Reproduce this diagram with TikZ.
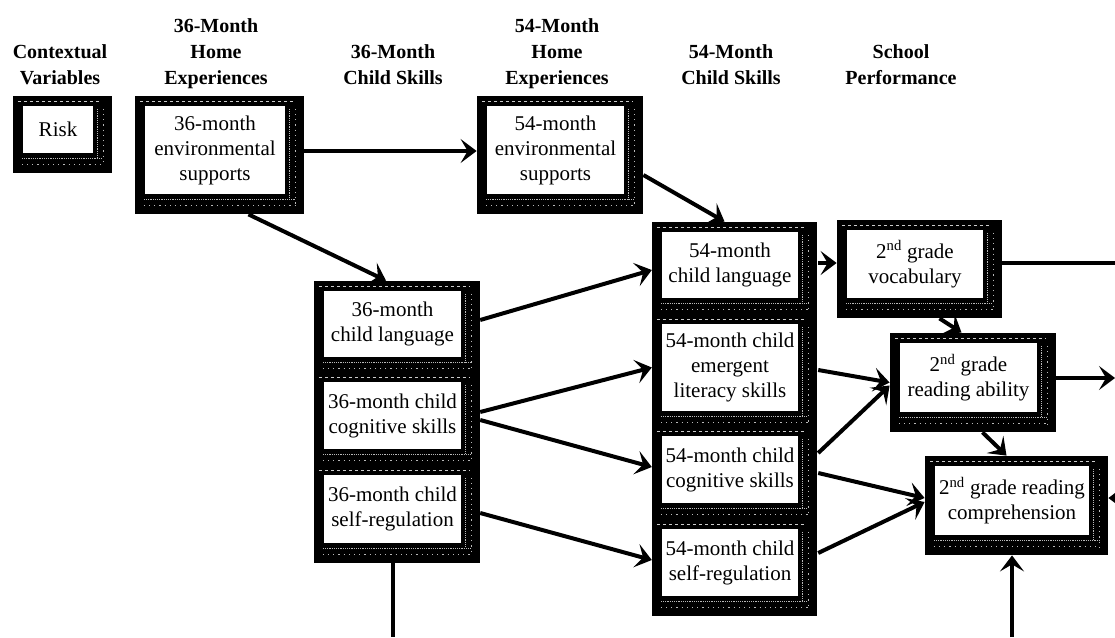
\documentclass[tikz,border=0pt]{standalone}
\usepackage{fontspec}
\setmainfont{Liberation Serif}
\usetikzlibrary{arrows.meta,fit,backgrounds}

\begin{document}
\begin{tikzpicture}[x=1pt,y=-1pt,
  cell/.style={fill=white, align=center, inner sep=0pt, font=\fontsize{21}{25}\selectfont},
  frame/.style={fill=black, inner sep=0pt},
  speck/.style={gray!55, densely dotted, line width=1.2pt},
  head/.style={align=center, anchor=south, inner sep=0pt, font=\bfseries\fontsize{20}{26}\selectfont},
  arr/.style={-{Stealth[length=16pt,width=24pt,inset=7pt]}, line width=4pt},
  link/.style={line width=4pt},
]
\useasboundingbox (0,0) rectangle (1115,637);

% column headings
\node[head] (hctx) at (60,92) {Contextual\\Variables\strut};
\node[head] (hhome36) at (216,92) {36-Month\\Home\\Experiences\strut};
\node[head] (hchild36) at (393,92) {36-Month\\Child Skills\strut};
\node[head] (hhome54) at (557,92) {54-Month\\Home\\Experiences\strut};
\node[head] (hchild54) at (731,92) {54-Month\\Child Skills\strut};
\node[head] (hschool) at (901,92) {School\\Performance\strut};

% boxes
\node[cell, minimum width=70, minimum height=47] (risk) at (58,129.5) {Risk};
\node[cell, minimum width=140, minimum height=88] (env36) at (215,150) {36-month\\environmental\\supports};
\node[cell, minimum width=137, minimum height=88] (env54) at (555.5,150) {54-month\\environmental\\supports};

\node[cell, minimum width=137, minimum height=66] (lang36) at (392.5,324) {36-month\\child language};
\node[cell, minimum width=137, minimum height=67] (cog36) at (392.5,415.5) {36-month child\\cognitive skills};
\node[cell, minimum width=137, minimum height=68] (self36) at (392.5,509) {36-month child\\self-regulation};

\node[cell, minimum width=136, minimum height=66] (lang54) at (730,265) {54-month\\child language};
\node[cell, minimum width=136, minimum height=87] (emer54) at (730,367.5) {54-month child\\emergent\\literacy skills};
\node[cell, minimum width=136, minimum height=67] (cog54) at (730,469.5) {54-month child\\cognitive skills};
\node[cell, minimum width=136, minimum height=67] (self54) at (730,562.5) {54-month child\\self-regulation};

\node[cell, minimum width=136, minimum height=68] (vocab) at (915,264) {2\textsuperscript{nd} grade\\vocabulary};
\node[cell, minimum width=137, minimum height=69] (read) at (968.5,377.5) {2\textsuperscript{nd} grade\\reading ability};
\node[cell, minimum width=154, minimum height=69] (comp) at (1012,500.5) {2\textsuperscript{nd} grade reading\\comprehension};

% black frames with speckled shadow
\begin{pgfonlayer}{background}
\foreach \n in {risk,env36,env54,vocab,read,comp}
  \node[frame, fit={([shift={(-10pt,10pt)}]\n.north west) ([shift={(19pt,-20pt)}]\n.south east)}] (f\n) {};
\node[frame, fit={([shift={(-10pt,10pt)}]lang36.north west) ([shift={(19pt,-20pt)}]self36.south east)}] (fc36) {};
\node[frame, fit={([shift={(-10pt,10pt)}]lang54.north west) ([shift={(19pt,-20pt)}]self54.south east)}] (fc54) {};
\foreach \c in {risk,env36,env54,lang36,cog36,self36,lang54,emer54,cog54,self54,vocab,read,comp} {
  \draw[speck] ([xshift=4pt,yshift=-3pt]\c.north east) -- ([xshift=4pt,yshift=-5pt]\c.south east);
  \draw[speck, loosely dotted] ([xshift=10pt,yshift=-3pt]\c.north east) -- ([xshift=10pt,yshift=-12pt]\c.south east);
  \draw[speck] ([xshift=-1pt,yshift=-5pt]\c.south west) -- ([xshift=10pt,yshift=-5pt]\c.south east);
  \draw[speck, loosely dotted] ([xshift=-1pt,yshift=-11pt]\c.south west) -- ([xshift=10pt,yshift=-11pt]\c.south east);
  \draw[gray!40, dashed, line width=0.5pt] ([xshift=-5pt,yshift=5pt]\c.north west) -- ([xshift=8pt,yshift=5pt]\c.north east);
}
\end{pgfonlayer}

% paths
\coordinate (out36) at (393,637);
\coordinate (outvoc) at (1115,263);
\coordinate (outread) at (1115,378);
\coordinate (incomp) at (1012,637);
\coordinate (incomp2) at (1140,498);

\draw[arr] ([yshift=4pt]fenv36.east) -- ([yshift=4pt]fenv54.west);
\draw[arr] ([yshift=-20pt]fenv54.east) -- ([xshift=-10pt]fc54.north);
\draw[arr] ([xshift=29pt]fenv36.south) -- ([xshift=-11pt]fc36.north);
\draw[arr] ([xshift=19pt,yshift=4pt]lang36.east) -- ([xshift=-10pt,yshift=-5pt]lang54.west);
\draw[arr] ([xshift=19pt,yshift=3.5pt]cog36.east) -- ([xshift=-10pt]emer54.west);
\draw[arr] ([xshift=19pt,yshift=-4.5pt]cog36.east) -- ([xshift=-10pt,yshift=2.5pt]cog54.west);
\draw[arr] ([xshift=19pt,yshift=-4pt]self36.east) -- ([xshift=-10pt,yshift=2.5pt]self54.west);
\draw[link] (out36 |- fc36.south) -- (out36);
\draw[arr] ([xshift=20pt,yshift=2pt]lang54.east) -- ([yshift=6pt]fvocab.west);
\draw[link] (outvoc -| fvocab.east) -- (outvoc);
\draw[arr] ([xshift=20pt]fvocab.south) -- ([xshift=-11.5pt]fread.north);
\draw[arr] ([xshift=20pt,yshift=-2.5pt]emer54.east) -- (fread.west);
\draw[arr] ([xshift=20pt,yshift=16.5pt]cog54.east) -- ([yshift=-3pt]fread.west);
\draw[arr] (outread -| fread.east) -- (outread);
\draw[arr] ([xshift=9.5pt]fread.south) -- ([xshift=-10pt]fcomp.north);
\draw[arr] ([xshift=20pt,yshift=-3.5pt]cog54.east) -- ([yshift=7.5pt]fcomp.west);
\draw[arr] ([xshift=20pt,yshift=9.5pt]self54.east) -- ([yshift=3.5pt]fcomp.west);
\draw[arr] (incomp) -- (incomp |- fcomp.south);
\draw[arr] (incomp2) -- (incomp2 -| fcomp.east);
\end{tikzpicture}
\end{document}
